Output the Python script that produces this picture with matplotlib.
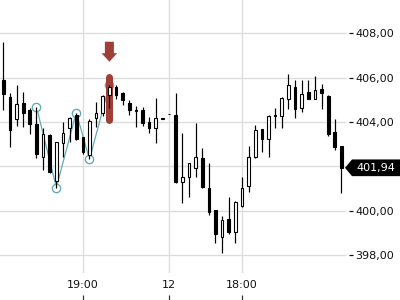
import matplotlib
matplotlib.use("Agg")
import matplotlib.pyplot as plt
from matplotlib.patches import Polygon
from matplotlib.ticker import FuncFormatter

# ---- data ----
opens = [405.90, 405.13, 404.14, 404.86, 404.55, 403.91, 402.43, 403.42, 401.36, 403.06,
         403.72, 404.32, 403.32, 402.52, 404.17, 404.42, 405.22, 405.59, 405.30, 404.84,
         404.50, 404.55, 403.99, 403.72, 404.16, 404.35, 404.32, 401.32, 401.51, 401.92,
         402.37, 401.02, 400.03, 398.81, 399.64, 399.04, 400.23, 401.12, 402.44, 403.68,
         403.23, 404.28, 404.27, 405.03, 405.57, 404.62, 405.37, 405.03, 405.48, 405.18,
         403.57, 402.92]
highs = [407.62, 405.31, 405.67, 405.36, 404.64, 404.69, 403.73, 403.46, 403.12, 404.02,
         404.24, 404.43, 403.34, 404.13, 404.92, 405.22, 405.67, 405.65, 405.36, 405.00,
         404.73, 404.67, 404.22, 405.07, 404.18, 404.35, 405.32, 403.50, 402.17, 403.95,
         402.85, 402.14, 400.04, 399.77, 400.64, 400.46, 401.54, 402.92, 403.87, 403.69,
         404.32, 404.62, 405.11, 406.17, 405.90, 405.90, 405.90, 406.08, 405.72, 405.22,
         404.13, 402.92]
lows = [404.55, 402.89, 403.82, 403.79, 403.46, 402.40, 401.84, 401.71, 401.05, 402.44,
        403.12, 403.19, 402.56, 402.32, 403.79, 404.27, 404.62, 405.02, 404.77, 404.32,
        403.77, 403.82, 403.52, 403.07, 404.15, 404.35, 401.24, 400.34, 400.64, 401.54,
        401.02, 399.82, 398.57, 398.09, 398.96, 398.57, 400.19, 400.86, 402.40, 402.67,
        402.44, 403.72, 403.75, 404.58, 404.17, 404.47, 405.02, 405.02, 404.58, 403.37,
        402.74, 400.79]
closes = [405.25, 403.64, 404.82, 404.41, 403.91, 402.56, 403.46, 401.77, 403.12, 403.51,
          404.17, 403.24, 402.67, 404.06, 404.40, 405.19, 405.57, 405.22, 405.00, 404.55,
          404.55, 403.97, 403.72, 404.17, 404.17, 404.35, 401.29, 401.51, 402.14, 402.41,
          401.09, 399.96, 398.96, 399.59, 399.04, 400.41, 401.02, 402.41, 403.64, 403.23,
          404.27, 404.34, 405.07, 405.67, 404.58, 405.27, 405.03, 405.45, 405.30, 403.46,
          402.89, 401.94]

xtick_idx = [12, 25, 36]
xtick_labels = ["19:00", "12", "18:00"]
ytick_values = [398, 400, 402, 404, 406, 408]

zigzag_idx = [5, 8, 11, 13, 16]
zigzag_vals = [highs[5], lows[8], highs[11], lows[13], highs[16]]

signal_idx = 16
highlight_range = (403.95, 406.20)

# ---- styling ----
PX = 0.72  # one pixel in points at dpi 100
grid_c = "#dcdcdc"
zig_c = "#5fa9b3"
sig_c = "#a03f38"

fig = plt.figure(figsize=(4, 3), dpi=100)
ax = fig.add_axes([0.0, 0.09, 349 / 400, 0.91])
ax.set_xlim(-0.498, 52.14)
ax.set_ylim(397.20, 409.50)
for s in ax.spines.values():
    s.set_visible(False)

# gridlines
ax.set_xticks(xtick_idx)
ax.set_xticklabels(xtick_labels, fontsize=8, color="#111111")
ax.grid(axis="x", color=grid_c, lw=PX * 1.3, zorder=0)
ax.set_axisbelow(True)
for v in ytick_values:
    ax.axhline(v, xmin=0, xmax=345 / 349, color=grid_c, lw=PX * 1.3, zorder=0)

ax.set_yticks(ytick_values)
ax.yaxis.set_major_formatter(FuncFormatter(lambda v, p: f"{v:.2f}".replace(".", ",")))
ax.tick_params(axis="y", left=False, labelleft=False, right=True, labelright=True,
               length=4 * PX, width=PX * 1.2, pad=1.5, labelsize=8, colors="#111111")
ax.tick_params(axis="x", length=0, pad=5)

# bottom tick marks below the labels
sec = ax.secondary_xaxis(-27 / 273)
sec.set_xticks(xtick_idx)
sec.set_xticklabels([])
sec.spines["bottom"].set_visible(False)
sec.tick_params(axis="x", direction="in", length=5 * PX, width=PX * 1.2, color="#333333")

# highlight bar and arrow
ax.plot([signal_idx, signal_idx], [highlight_range[0] + 0.158, highlight_range[1] - 0.158],
        color=sig_c, lw=7 * PX, solid_capstyle="round", zorder=1.8)
x0 = signal_idx
arrow_pts = [(x0 - 0.68, 407.62), (x0 + 0.68, 407.62), (x0 + 0.68, 407.10),
             (x0 + 1.18, 407.10), (x0, 406.72), (x0 - 1.18, 407.10), (x0 - 0.68, 407.10)]
ax.add_patch(Polygon(arrow_pts, closed=True, color=sig_c, lw=0, zorder=4))

# zigzag
ax.plot(zigzag_idx, zigzag_vals, color=zig_c, lw=PX * 1.2, marker="o", ms=6,
        mfc="white", mec=zig_c, mew=PX * 1.3, zorder=1.5)

# candles
idx = list(range(len(opens)))
ax.vlines(idx, lows, highs, color="black", lw=PX * 1.2, zorder=2)
bottoms = [min(o, c) for o, c in zip(opens, closes)]
heights = [abs(c - o) for o, c in zip(opens, closes)]
colors = ["white" if c >= o else "black" for o, c in zip(opens, closes)]
ax.bar(idx, heights, bottom=bottoms, width=0.4, color=colors, edgecolor="black",
       linewidth=PX * 1.1, zorder=3)

# last price label
tr = ax.get_yaxis_transform()
last = closes[-1]
h = 0.376
label_pts = [(345 / 349, last), (1.0086, last + h), (1.25, last + h),
             (1.25, last - h), (1.0086, last - h)]
ax.add_patch(Polygon(label_pts, closed=True, transform=tr, facecolor="black",
                     edgecolor="none", clip_on=False, zorder=10))
ax.text(1.0201, last, f"{last:.2f}".replace(".", ","), transform=tr, color="white",
        fontsize=8, va="center", ha="left", zorder=11, clip_on=False)

fig.savefig("out.png", dpi=100)
